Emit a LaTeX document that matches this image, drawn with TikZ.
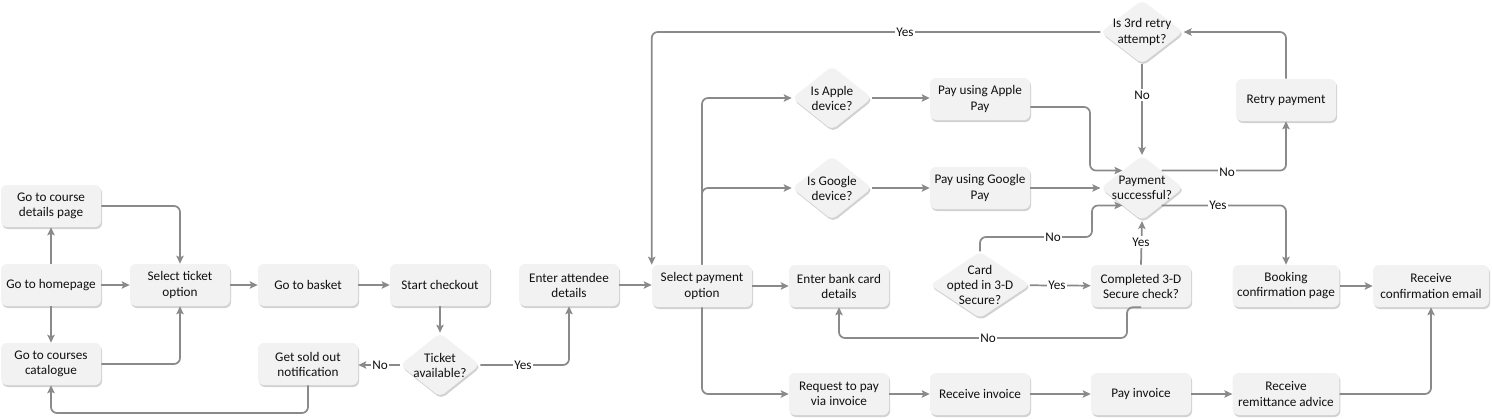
\documentclass[tikz,border=0pt]{standalone}
\usepackage{fontspec}
\setmainfont{Carlito}
\usetikzlibrary{arrows.meta,shapes.geometric,shadows,calc}
\definecolor{boxfill}{HTML}{F2F2F2}
\definecolor{lin}{HTML}{8A8A8A}
\definecolor{shad}{HTML}{D2D2D2}
\definecolor{txt}{HTML}{111111}
\begin{document}
\begin{tikzpicture}[x=0.75pt,y=-0.75pt,
 font=\fontsize{9.9}{11.3}\selectfont, text=txt,
 box/.style={rectangle, rounded corners=4.5pt, fill=boxfill, minimum width=75pt, minimum height=31.5pt, align=center, inner sep=2pt,
   drop shadow={shadow xshift=0.8pt, shadow yshift=-1.5pt, fill=shad, opacity=1}},
 dia/.style={diamond, rounded corners=4pt, fill=boxfill, inner sep=0pt,
   drop shadow={shadow xshift=0.8pt, shadow yshift=-1.5pt, fill=shad, opacity=1}},
 dtext/.style={align=center, inner sep=0pt},
 conn/.style={draw=lin, line width=1.3pt, rounded corners=4.5pt, -{Stealth[length=6pt,width=5.5pt,inset=1.2pt]}},
 lab/.style={fill=white, inner sep=1pt, text=txt}
]
\useasboundingbox (0,0) rectangle (1492,418);

% boxes
\node[box] (cdp) at (51,206) {Go to course\\details page};
\node[box] (home) at (51,285) {Go to homepage};
\node[box] (cat) at (51,364) {Go to courses\\catalogue};
\node[box] (sel) at (180,285) {Select ticket\\option};
\node[box] (bas) at (308,285) {Go to basket};
\node[box] (chk) at (440,285) {Start checkout};
\node[box] (sold) at (308,364) {Get sold out\\notification};
\node[box] (att) at (569,285) {Enter attendee\\details};
\node[box] (sp) at (702,286) {Select payment\\option};
\node[box] (ebc) at (839,286) {Enter bank card\\details};
\node[box] (cs) at (1141,286) {Completed 3-D\\Secure check?};
\node[box] (req) at (839,394) {Request to pay\\via invoice};
\node[box] (ri) at (980,394) {Receive invoice};
\node[box] (pi) at (1141,394) {Pay invoice};
\node[box, minimum width=80pt] (rem) at (1286,394) {Receive\\remittance advice};
\node[box, minimum width=80pt] (book) at (1286,286) {Booking\\confirmation page};
\node[box, minimum width=87pt] (email) at (1431,286) {Receive\\confirmation email};
\node[box] (pa) at (980,99) {Pay using Apple\\Pay};
\node[box] (pg) at (980,188) {Pay using Google\\Pay};
\node[box] (retry) at (1286,100) {Retry payment};

% diamonds
\node[dia, minimum width=60pt, minimum height=48pt] (ta) at (440,365) {};
\node[dtext] (tat) at (ta) {Ticket\\available?};
\node[dia, minimum width=60pt, minimum height=48pt] (apple) at (832,98) {};
\node[dtext] (applet) at (apple) {Is Apple\\device?};
\node[dia, minimum width=60pt, minimum height=48pt] (google) at (832,188) {};
\node[dtext] (googlet) at (google) {Is Google\\device?};
\node[dia, minimum width=75pt, minimum height=50pt] (co) at (980,285) {};
\node[dtext] (cot) at (co) {Card\\opted in 3-D\\Secure?};
\node[dia, minimum width=62pt, minimum height=49pt] (ps) at (1142,188) {};
\node[dtext] (pst) at (ps) {Payment\\successful?};
\node[dia, minimum width=62pt, minimum height=48pt] (r3) at (1142,32) {};
\node[dtext] (r3t) at (r3) {Is 3rd retry\\attempt?};

% helper coordinates
\coordinate (b1) at (308,413);
\coordinate (c1) at (1090,107);
\coordinate (c2) at (1092,237);
\coordinate (c3) at (1127,338);

% connectors
\draw[conn] (home) -- (cdp);
\draw[conn] (home) -- (cat);
\draw[conn] (home) -- (sel);
\draw[conn] (cdp.east) -| (sel.north);
\draw[conn] (cat.east) -| (sel.south);
\draw[conn] (sel) -- (bas);
\draw[conn] (bas) -- (chk);
\draw[conn] (chk) -- (ta);
\draw[conn] (ta.west) -- (ta.west -| sold.east);
\draw[conn] (ta.east) -| (att.south);
\draw[conn] (sold.south) -- (b1) -| (cat.south);
\draw[conn] (att) -- (att -| sp.west);
\draw[conn] (sp) -- (ebc);
\draw[conn] (sp.north) |- (apple.west);
\draw[conn] (sp.north) |- (google.west);
\draw[conn] (sp.south) |- (req.west);
\draw[conn] (apple) -- (apple -| pa.west);
\draw[conn] (google) -- (pg);
\draw[conn] ([yshift=-6pt]pa.east) -- (c1) |- ($(ps.west)!0.53!(ps.north)$);
\draw[conn] (pg) -- (ps);
\draw[conn] (co) -- (cs);
\draw[conn] (co.north) |- (c2) |- ($(ps.west)!0.53!(ps.south)$);
\draw[conn] (cs.north) -- (ps.south);
\draw[conn] (cs.south) -| (c3) -| (ebc.south);
\draw[conn] ($(ps.east)!0.53!(ps.north)$) -| (retry.south);
\draw[conn] (retry.north) |- (r3.east);
\draw[conn] (r3.south) -- (ps.north);
\draw[conn] (r3.west) -| (sp.north west);
\draw[conn] ($(ps.east)!0.53!(ps.south)$) -| (book.north);
\draw[conn] (book) -- (email);
\draw[conn] (req) -- (ri);
\draw[conn] (ri) -- (pi);
\draw[conn] (pi) -- (rem);
\draw[conn] (rem.east) -| (email.south);

% labels
\node[lab] (l1) at (380,365) {No};
\node[lab] (l2) at (523,365) {Yes};
\node[lab] (l3) at (905,32) {Yes};
\node[lab] (l4) at (1142,95) {No};
\node[lab] (l5) at (1227,172) {No};
\node[lab] (l6) at (1218,205) {Yes};
\node[lab] (l7) at (1053,237) {No};
\node[lab] (l8) at (1141,242) {Yes};
\node[lab] (l9) at (1057,285) {Yes};
\node[lab] (l10) at (988,338) {No};
\end{tikzpicture}
\end{document}
